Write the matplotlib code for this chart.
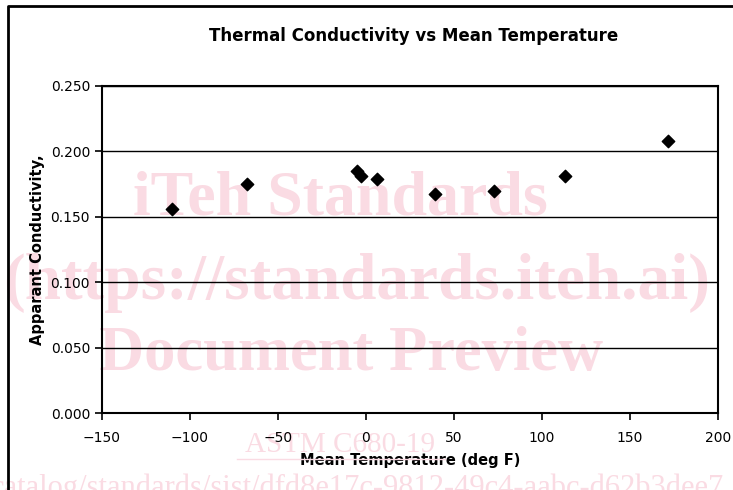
import matplotlib.pyplot as plt
from matplotlib.lines import Line2D

mean_temp = [-110.0, -67.4, -5.0, -2.8, 6.3, 39.5, 72.7, 113.0, 171.7]
conductivity = [0.1556, 0.1746, 0.1852, 0.1811, 0.1787, 0.1670, 0.1695, 0.1810, 0.2076]
x_ticks = [-150, -100, -50, 0, 50, 100, 150, 200]
y_ticks = [0.000, 0.050, 0.100, 0.150, 0.200, 0.250]

wm_color = '#fadbe3'

fig = plt.figure(figsize=(7.33, 4.9), dpi=100)
ax = fig.add_axes([0.139, 0.157, 0.8405, 0.668])

# pink watermark, kept under the grid and the points
serif = ['Liberation Serif', 'DejaVu Serif']
wm = dict(transform=fig.transFigure, ha='center', va='center', family=serif,
          color=wm_color, zorder=0.5, clip_on=False)
ax.text(0.465, 0.592, 'iTeh Standards', fontsize=46, fontweight='bold', **wm)
ax.text(0.487, 0.422, '(https://standards.iteh.ai)', fontsize=47, fontweight='bold', **wm)
ax.text(0.479, 0.275, 'Document Preview', fontsize=45, fontweight='bold', **wm)
ax.text(0.464, 0.092, 'ASTM C680-19', fontsize=21, **wm)
fig.add_artist(Line2D([0.323, 0.607], [0.063, 0.063], color=wm_color, lw=1, zorder=0.5))
ax.text(-0.012, -0.012, 'catalog/standards/sist/dfd8e17c-9812-49c4-aabc-d62b3dee7',
        transform=fig.transFigure, ha='left', va='baseline', fontsize=22, family=serif,
        color=wm_color, zorder=0.5, clip_on=False)

ax.scatter(mean_temp, conductivity, marker='D', s=40, color='black', zorder=3)

ax.set_xlim(-150, 200)
ax.set_ylim(0, 0.25)
ax.set_xticks(x_ticks)
ax.set_yticks(y_ticks)
ax.set_yticklabels(['%.3f' % v for v in y_ticks])
ax.grid(axis='y', color='black', linewidth=1)
ax.tick_params(direction='out', length=5, width=1.2, labelsize=10)
ax.tick_params(axis='x', pad=8)
for s in ax.spines.values():
    s.set_linewidth(1.5)
    s.set_zorder(4)

ax.set_xlabel('Mean Temperature (deg F)', fontsize=10.5, fontweight='bold', labelpad=6)
ax.set_ylabel('Apparant Conductivity,', fontsize=10.5, fontweight='bold', labelpad=4)
fig.text(0.564, 0.926, 'Thermal Conductivity vs Mean Temperature', ha='center',
         va='center', fontsize=12, fontweight='bold')

# outer border of the chart area
fig.add_artist(Line2D([0.011, 0.011, 1.0], [0.0, 0.988, 0.988], color='black', lw=2))

fig.savefig('out.png', dpi=100)
